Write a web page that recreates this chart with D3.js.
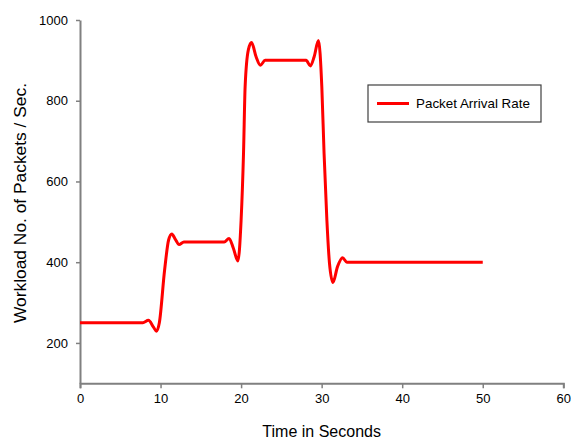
<!DOCTYPE html>
<html>
<head>
<meta charset="utf-8">
<script src="https://cdn.jsdelivr.net/npm/d3@7"></script>
<style>
  body { margin: 0; background: #fff; }
  text { font-family: "Liberation Sans", Arial, sans-serif; fill: #000; }
</style>
</head>
<body>
<div id="container"></div>
<script>
"use strict";

// Values.
const timeSeconds = [0, 7.8, 8.5, 9.1, 9.5, 9.85, 10.5, 11.0, 11.4, 11.8, 12.3, 12.9, 17.9, 18.5, 19.05, 19.6,
  20.0, 20.3, 20.5, 20.9, 21.3, 21.86, 22.4, 22.98, 28.07, 28.6, 29.07, 29.6, 30.02, 30.3, 30.65, 30.97,
  31.4, 31.97, 32.6, 33.13, 50];
const arrivalRate = [250, 250, 256, 240, 229, 250, 380, 455, 470, 458, 444, 450, 450, 459, 434, 403,
  504, 670, 835, 926, 944, 909, 888, 900, 900, 886, 909, 949, 835, 670, 504, 398,
  350, 389, 411, 400, 400];
const xTicks = [0, 10, 20, 30, 40, 50, 60];
const yTicks = [200, 400, 600, 800, 1000];
const seriesName = "Packet Arrival Rate";

const width = 571, height = 441;
const margin = { top: 20, right: 8, bottom: 58, left: 80 };

const svg = d3.select("#container").append("svg")
  .attr("width", width).attr("height", height);

const x = d3.scaleLinear().domain([0, 60]).range([margin.left, 563.3]);
const y = d3.scaleLinear().domain([100, 1000]).range([383.3, margin.top]);

const axisColor = "#808080";

// x-axis
svg.append("g")
  .attr("transform", `translate(0, ${y(100)})`)
  .call(d3.axisBottom(x).tickValues(xTicks).tickSize(5).tickPadding(5).tickFormat(d3.format("d")))
  .call((g) => {
    g.select(".domain").attr("stroke", axisColor).attr("stroke-width", 2);
    g.selectAll(".tick line").attr("stroke", axisColor).attr("stroke-width", 1.5);
    g.selectAll("text").style("font-size", "13px").attr("font-family", null).attr("fill", "#000");
  });

// y-axis
svg.append("g")
  .attr("transform", `translate(${x(0)}, 0)`)
  .call(d3.axisLeft(y).tickValues(yTicks).tickSize(4).tickPadding(8).tickSizeOuter(0).tickFormat(d3.format("d")))
  .call((g) => {
    g.select(".domain").attr("stroke", axisColor).attr("stroke-width", 2);
    g.selectAll(".tick line").attr("stroke", axisColor).attr("stroke-width", 1.5);
    g.selectAll("text").style("font-size", "13px").attr("font-family", null).attr("fill", "#000");
  });

// axis titles
svg.append("text")
  .attr("x", (x(0) + x(60)) / 2).attr("y", 437)
  .attr("text-anchor", "middle").style("font-size", "16px")
  .text("Time in Seconds");

svg.append("text")
  .attr("transform", `translate(26, 203) rotate(-90)`)
  .attr("text-anchor", "middle").style("font-size", "16px")
  .attr("textLength", 240).attr("lengthAdjust", "spacingAndGlyphs")
  .text("Workload No. of Packets / Sec.");

// the series
const data = timeSeconds.map((t, i) => ({ t, v: arrivalRate[i] }));
const line = d3.line()
  .x((d) => x(d.t))
  .y((d) => y(d.v))
  .curve(d3.curveMonotoneX);

svg.append("path")
  .datum(data)
  .attr("fill", "none")
  .attr("stroke", "#ff0000")
  .attr("stroke-width", 3)
  .attr("stroke-linejoin", "round")
  .attr("d", line);

// legend
const legend = svg.append("g").attr("transform", "translate(368, 85)");
legend.append("rect")
  .attr("x", 0).attr("y", 0).attr("width", 173).attr("height", 37)
  .attr("fill", "#fff").attr("stroke", "#404040").attr("stroke-width", 1.2);
legend.append("line")
  .attr("x1", 9).attr("x2", 41).attr("y1", 18.5).attr("y2", 18.5)
  .attr("stroke", "#ff0000").attr("stroke-width", 3);
legend.append("text")
  .attr("x", 48).attr("y", 23)
  .style("font-size", "13.4px")
  .text(seriesName);
</script>
</body>
</html>
